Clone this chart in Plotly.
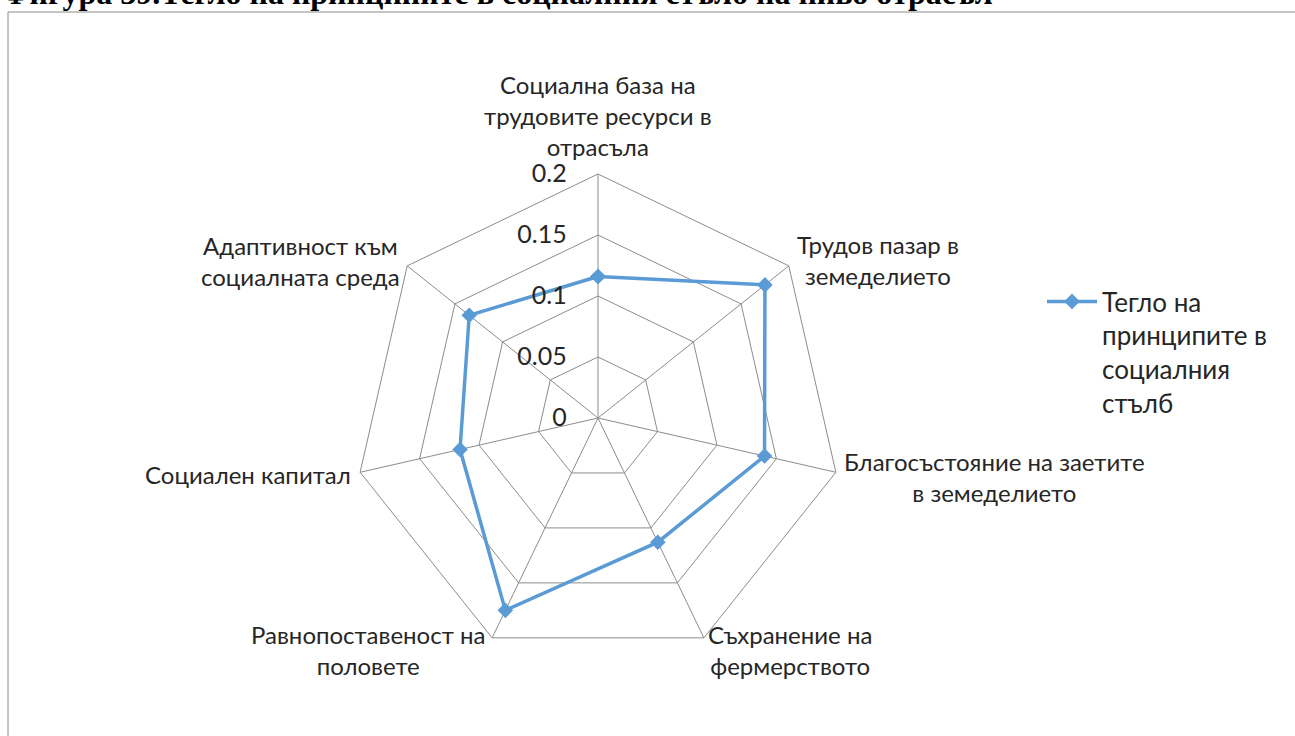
import plotly.graph_objects as go

# ---- data ----
categories = [
    "Социална база на<br>трудовите ресурси в<br>отрасъла",
    "Трудов пазар в<br>земеделието",
    "Благосъстояние на заетите<br>в земеделието",
    "Съхранение на<br>фермерството",
    "Равнопоставеност на<br>половете",
    "Социален капитал",
    "Адаптивност към<br>социалната среда",
]
values = [0.116, 0.175, 0.140, 0.113, 0.175, 0.116, 0.135]
series_name = "Тегло на<br>принципите в<br>социалния<br>стълб"
radial_ticks = [0, 0.05, 0.1, 0.15, 0.2]
radial_ticktext = ["0", "0.05", "0.1", "0.15", "0.2"]
title_text = "Фигура 39.Тегло на принципите в социалния стълб на ниво отрасъл"

# ---- layout helpers ----
W, H = 1295, 736
def px(x):
    return x / W
def py(y):
    return 1 - y / H

cx, cy, R = 598, 418, 244
label_pos = [(598, 115), (878, 260), (994, 477), (790, 650), (368, 650), (248, 475), (300, 261)]

FONT = "Lato"
GRID = "#8c8c8c"
BLUE = "#5B9BD5"

fig = go.Figure()
fig.add_trace(go.Scatterpolar(
    r=values + [values[0]],
    theta=categories + [categories[0]],
    mode="lines+markers",
    name=series_name,
    line=dict(color=BLUE, width=3.5),
    marker=dict(symbol="diamond", size=12, color=BLUE),
))

annotations = []
for (lx, ly), txt in zip(label_pos, categories):
    annotations.append(dict(
        x=px(lx), y=py(ly), xref="paper", yref="paper",
        text=txt, showarrow=False, align="center",
        xanchor="center", yanchor="middle",
        font=dict(family=FONT, size=24, color="#262626"),
    ))
annotations.append(dict(
    x=0, y=py(13), xref="paper", yref="paper", text="<b>" + title_text + "</b>",
    showarrow=False, xanchor="left", yanchor="bottom",
    font=dict(family="Liberation Serif", size=32, color="#000000"),
))

fig.update_layout(
    width=W, height=H,
    margin=dict(l=0, r=0, t=0, b=0),
    paper_bgcolor="white",
    plot_bgcolor="white",
    showlegend=True,
    legend=dict(
        x=px(1042), y=py(278), xanchor="left", yanchor="top",
        valign="top", itemwidth=50,
        font=dict(family=FONT, size=26, color="#262626"),
        bgcolor="rgba(0,0,0,0)",
    ),
    polar=dict(
        domain=dict(x=[px(cx - R), px(cx + R)], y=[py(cy + R), py(cy - R)]),
        bgcolor="white",
        gridshape="linear",
        radialaxis=dict(
            range=[0, 0.2], tickvals=radial_ticks, ticktext=radial_ticktext,
            angle=90, side="counterclockwise", tickangle=90,
            showline=False, gridcolor=GRID, gridwidth=1,
            ticks="outside", ticklen=22, tickcolor="rgba(0,0,0,0)",
            tickfont=dict(family=FONT, size=25, color="#262626"),
        ),
        angularaxis=dict(
            type="category",
            categoryarray=categories,
            showticklabels=False,
            rotation=90, direction="clockwise",
            gridcolor=GRID, gridwidth=1,
            showline=True, linecolor=GRID, linewidth=1,
            ticks="",
        ),
    ),
    shapes=[dict(
        type="rect", xref="paper", yref="paper",
        x0=px(8), y0=-0.05, x1=1.05, y1=py(12),
        line=dict(color="#8a8a8a", width=1), fillcolor="rgba(0,0,0,0)",
        layer="below",
    )],
    annotations=annotations,
)

fig.write_html(
    "out.html",
    config={"displayModeBar": False},
    post_script="document.body.style.margin='0';document.body.style.overflow='hidden';",
)
